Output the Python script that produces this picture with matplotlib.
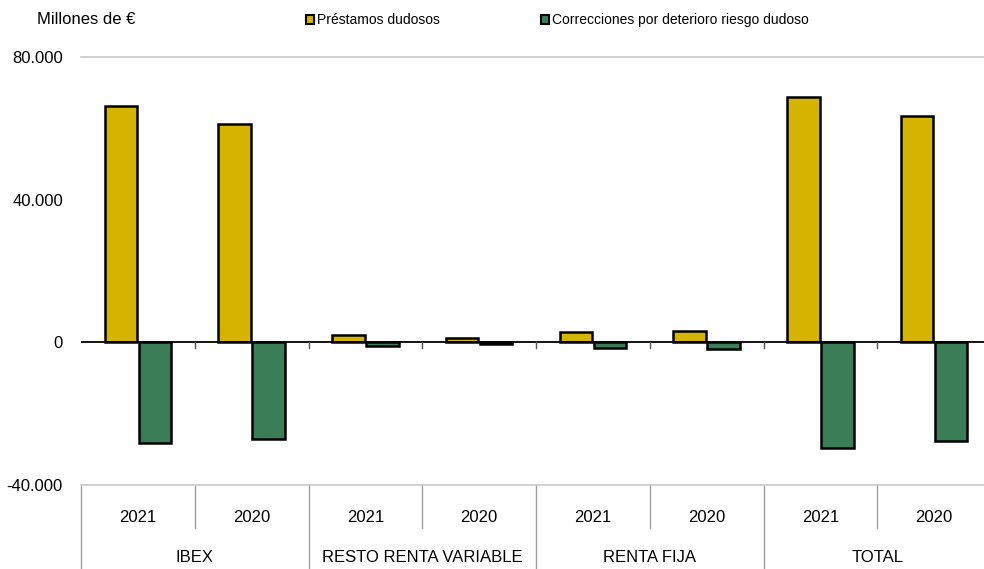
import numpy as np
import matplotlib.pyplot as plt
import matplotlib.transforms as mtransforms
from matplotlib.patches import Patch

plt.rcParams['font.family'] = ['Liberation Sans', 'DejaVu Sans']

groups = ["IBEX", "RESTO RENTA VARIABLE", "RENTA FIJA", "TOTAL"]
years = ["2021", "2020"]
prestamos = [66200, 61200, 2000, 1100, 2800, 3100, 68800, 63400]
correcciones = [-28300, -27000, -1100, -600, -1700, -2000, -29500, -27800]
yticks = [-40000, 0, 40000, 80000]
ytick_labels = ["-40.000", "0", "40.000", "80.000"]

YELLOW = "#D4B400"
GREEN = "#3B7D56"

fig = plt.figure(figsize=(9.84, 5.69), dpi=100)
ax = fig.add_axes([81/984, 1 - 485/569, (991 - 81)/984, (485 - 57)/569])

x = np.arange(len(prestamos))
w = 0.285
ax.bar(x - 0.15, prestamos, w, color=YELLOW, edgecolor="black", linewidth=1.8, zorder=3)
ax.bar(x + 0.15, correcciones, w, color=GREEN, edgecolor="black", linewidth=1.8, zorder=3)

ax.set_xlim(-0.5, len(prestamos) - 0.5)
ax.set_ylim(-40000, 80000)
ax.set_yticks(yticks)
ax.set_yticklabels(ytick_labels, fontsize=12)
ax.tick_params(axis="y", length=0, pad=13)
ax.set_xticks([])

for s in ["left", "right"]:
    ax.spines[s].set_visible(False)
for s in ["top", "bottom"]:
    ax.spines[s].set_color("#C8C8C8")
    ax.spines[s].set_linewidth(1.2)

# zero line with small ticks at slot boundaries
ax.axhline(0, color="black", linewidth=1.3, zorder=4)
for b in np.arange(0.5, len(prestamos) - 0.5, 1):
    ax.plot([b, b], [0, -1500], color="#555555", linewidth=1, zorder=4)

# category table below the axis
trans = mtransforms.blended_transform_factory(ax.transData, ax.transAxes)
line_kw = dict(color="#A0A0A0", linewidth=1, transform=trans, clip_on=False)
ax.plot([-0.5, -0.5], [0, -0.2], **line_kw)
for i in range(len(prestamos) - 1):
    b = i + 0.5
    if i % 2 == 1:
        ax.plot([b, b], [0, -0.2], **line_kw)
    else:
        ax.plot([b, b], [0, -0.1], **line_kw)

for i in range(len(prestamos)):
    ax.text(i, -0.075, years[i % 2], transform=trans, ha="center", va="center", fontsize=12)
for g, name in enumerate(groups):
    ax.text(2 * g + 0.5, -0.17, name, transform=trans, ha="center", va="center", fontsize=12)

fig.text(37/984, 1 - 20/569, "Millones de €", fontsize=12, va="center", ha="left")

# legend
handles = [Patch(facecolor=YELLOW, edgecolor="black", linewidth=1.5, label="Préstamos dudosos"),
           Patch(facecolor=GREEN, edgecolor="black", linewidth=1.5, label="Correcciones por deterioro riesgo dudoso")]
fig.legend(handles=handles, loc="center left", bbox_to_anchor=(293/984, 1 - 20/569), ncol=2,
           frameon=False, fontsize=10, handlelength=0.6, handleheight=0.6, handletextpad=0.2,
           columnspacing=7.3)

fig.savefig("out.png", dpi=100)
